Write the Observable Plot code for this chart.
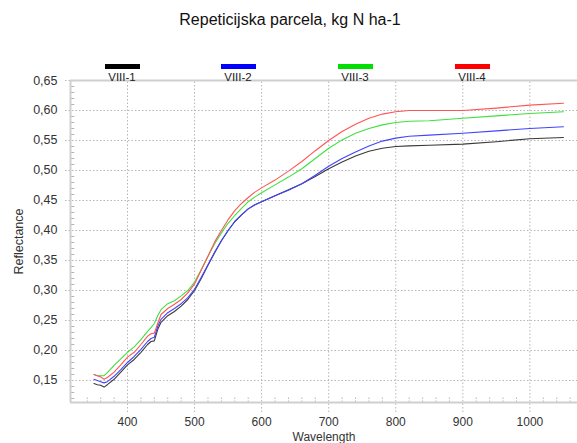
<!DOCTYPE html>
<html>
<head>
<meta charset="utf-8">
<script src="https://cdn.jsdelivr.net/npm/d3@7"></script>
<script src="https://cdn.jsdelivr.net/npm/@observablehq/plot@0.6"></script>
<style>
  html, body { margin: 0; padding: 0; background: #fff; }
  #wrap { position: relative; width: 577px; height: 443px; overflow: hidden; font-family: "Liberation Sans", Arial, sans-serif; }
  #title { position: absolute; left: 0; top: 11px; width: 580px; text-align: center; font-size: 16px; color: #111; }
  .leg { position: absolute; top: 64px; width: 100px; text-align: center; font-size: 11.5px; color: #222; line-height: 12px; }
  .sw { width: 35px; height: 5px; margin: 0 auto 2px auto; }
  #chart { position: absolute; left: 0; top: 0; }
</style>
</head>
<body>
<div id="wrap">
  <div id="chart"></div>
  <div id="title">Repeticijska parcela, kg N ha-1</div>
</div>
<script>
// ---- data ----
const wavelength = [350,355,360,365,370,380,390,400,410,420,430,435,440,445,450,460,470,480,490,500,510,520,530,540,550,560,570,580,590,600,620,640,660,680,700,720,740,760,780,800,820,850,900,950,1000,1050];
const viii1 = [0.145,0.143,0.142,0.139,0.143,0.152,0.164,0.176,0.185,0.197,0.210,0.215,0.216,0.235,0.247,0.258,0.265,0.274,0.285,0.300,0.320,0.342,0.363,0.383,0.400,0.415,0.426,0.436,0.443,0.448,0.458,0.468,0.478,0.490,0.503,0.514,0.524,0.532,0.537,0.540,0.541,0.542,0.544,0.548,0.553,0.555];
const viii2 = [0.152,0.150,0.148,0.146,0.148,0.157,0.168,0.180,0.190,0.202,0.215,0.220,0.222,0.240,0.252,0.263,0.270,0.278,0.288,0.302,0.322,0.343,0.364,0.383,0.400,0.415,0.426,0.436,0.443,0.448,0.458,0.467,0.478,0.492,0.507,0.520,0.531,0.541,0.549,0.554,0.557,0.559,0.562,0.566,0.570,0.573];
const viii3 = [0.160,0.158,0.158,0.158,0.163,0.175,0.186,0.197,0.206,0.218,0.232,0.238,0.245,0.258,0.268,0.278,0.283,0.291,0.300,0.314,0.335,0.357,0.378,0.396,0.412,0.425,0.437,0.448,0.456,0.463,0.476,0.489,0.503,0.520,0.537,0.551,0.562,0.570,0.576,0.580,0.582,0.583,0.587,0.591,0.595,0.598];
const viii4 = [0.160,0.158,0.156,0.152,0.155,0.164,0.176,0.189,0.197,0.210,0.224,0.228,0.229,0.245,0.260,0.270,0.277,0.285,0.296,0.311,0.334,0.357,0.381,0.400,0.418,0.433,0.445,0.455,0.464,0.471,0.484,0.499,0.515,0.533,0.550,0.565,0.577,0.587,0.594,0.598,0.600,0.600,0.600,0.604,0.609,0.612];
const seriesNames = ["VIII-1","VIII-2","VIII-3","VIII-4"];
const seriesValues = [viii1, viii2, viii3, viii4];
const lineColors = ["#3a3a3a","#4444ff","#3ee03e","#ff5555"];
const legendColors = ["#000000","#0000ff","#00e000","#ff0000"];
const xTicks = [400,500,600,700,800,900,1000];
const yTicks = [0.15,0.20,0.25,0.30,0.35,0.40,0.45,0.50,0.55,0.60,0.65];
const xMinor = d3.range(340, 1071, 20).filter(v => v % 100 !== 0);
const yMinor = d3.range(12, 65, 1).map(v => v / 100).filter(v => Math.round(v*100) % 5 !== 0);

const xDomain = [315, 1071];
const yDomain = [0.1133, 0.65];

const rows = [];
seriesNames.forEach((name, i) => {
  wavelength.forEach((w, j) => rows.push({series: name, wavelength: w, value: seriesValues[i][j]}));
});

const grid = {stroke: "#b5b5b5", strokeDasharray: "1.5,2", strokeWidth: 1};
const frameStyle = {stroke: "#cfcfcf", strokeWidth: 2};

const chart = Plot.plot({
  width: 577,
  height: 443,
  marginTop: 80,
  marginBottom: 41,
  marginLeft: 70,
  marginRight: 0,
  style: {fontFamily: "'Liberation Sans', Arial, sans-serif", fontSize: "12px", color: "#333", background: "transparent", overflow: "visible"},
  x: {domain: xDomain},
  y: {domain: yDomain},
  color: {domain: seriesNames, range: lineColors},
  marks: [
    Plot.ruleY(yTicks, {y: d => d, x1: xDomain[0] - 7.5, x2: xDomain[1], ...grid}),
    Plot.ruleX(xTicks, {x: d => d, y1: yDomain[0] - 0.0167, y2: yDomain[1], ...grid}),
    Plot.ruleX(xMinor, {x: d => d, y1: yDomain[0], y2: yDomain[0] + 0.009, stroke: "#b5b5b5", strokeDasharray: "1.5,1.5"}),
    Plot.ruleY(yMinor, {y: d => d, x1: xDomain[0] + 1.5, x2: xDomain[0] + 6.5, stroke: "#b5b5b5"}),
    Plot.ruleX([xDomain[0]], {x: d => d, y1: yDomain[0], y2: yDomain[1], ...frameStyle}),
    Plot.ruleY([yDomain[0], yDomain[1]], {y: d => d, x1: xDomain[0], x2: xDomain[1], ...frameStyle}),
    Plot.line(rows, {x: "wavelength", y: "value", z: "series", stroke: "series", strokeWidth: 1.1}),
    Plot.axisX(xTicks, {tickSize: 0, tickPadding: 15, tickFormat: d => String(d), label: "Wavelength", labelAnchor: "center", labelOffset: 38, labelArrow: "none", fontSize: 12}),
    Plot.axisY(yTicks, {tickSize: 0, tickPadding: 13, tickFormat: d => d.toFixed(2).replace(".", ","), label: "Reflectance", labelAnchor: "center", labelOffset: 56, labelArrow: "none", fontSize: 12.5})
  ]
});
document.getElementById("chart").appendChild(chart);

// legend (HTML, above the plot area)
const legendCenters = [122, 238, 355, 472];
seriesNames.forEach((name, i) => {
  const d = document.createElement("div");
  d.className = "leg";
  d.style.left = (legendCenters[i] - 50) + "px";
  const sw = document.createElement("div");
  sw.className = "sw";
  sw.style.background = legendColors[i];
  d.appendChild(sw);
  d.appendChild(document.createTextNode(name));
  document.getElementById("wrap").appendChild(d);
});
</script>
</body>
</html>
